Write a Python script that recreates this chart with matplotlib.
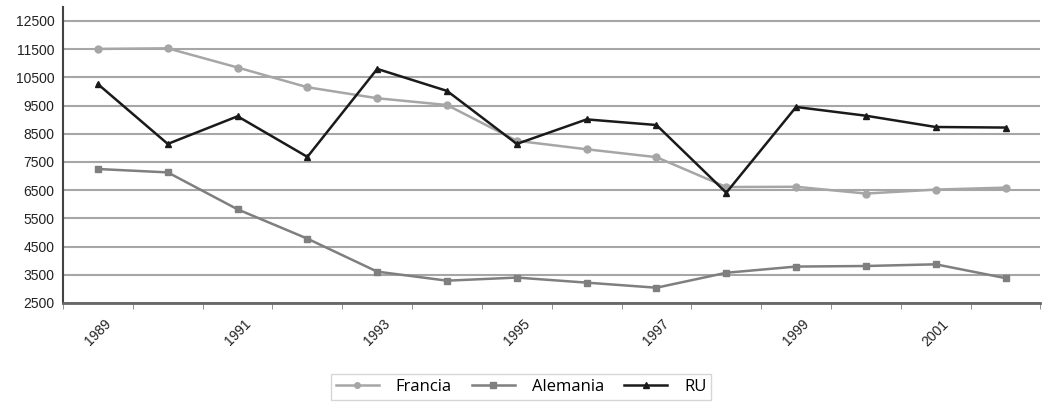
import matplotlib
matplotlib.use("Agg")
import matplotlib.pyplot as plt
import numpy as np

# data
years = list(range(1989, 2003))
francia = [11510, 11530, 10850, 10150, 9760, 9520, 8250, 7950, 7670, 6610, 6620, 6380, 6520, 6590]
alemania = [7250, 7130, 5820, 4780, 3610, 3290, 3400, 3220, 3040, 3570, 3790, 3810, 3870, 3380]
ru = [10260, 8140, 9120, 7680, 10800, 10020, 8140, 9010, 8810, 6410, 9450, 9140, 8740, 8720]

fig = plt.figure(figsize=(10.42, 4.05), dpi=100)
ax = fig.add_axes([0.0605, 0.252, 0.938, 0.731])

idx = np.arange(len(years))
ax.plot(idx, francia, color="#a6a6a6", marker="o", markersize=5, linewidth=1.8, label="Francia", zorder=3)
ax.plot(idx, alemania, color="#7f7f7f", marker="s", markersize=5, linewidth=1.8, label="Alemania", zorder=3)
ax.plot(idx, ru, color="#1a1a1a", marker="^", markersize=5, linewidth=1.8, label="RU", zorder=4)

# axes and grid
ax.set_xlim(-0.5, 13.5)
ax.set_ylim(2500, 13000)
ax.set_yticks(range(2500, 13000, 1000))
ax.tick_params(axis="y", labelsize=10, length=0, pad=6, labelcolor="#222222")
for y in range(2500, 13001, 1000):
    ax.axhline(y, color="#a6a6a6", linewidth=1.5, zorder=1)

ax.set_xticks(idx[::2])
ax.set_xticklabels([str(y) for y in years[::2]], rotation=45, fontsize=10, color="#222222")
ax.tick_params(axis="x", which="major", length=0, pad=10)
ax.set_xticks(np.arange(-0.5, 14, 1), minor=True)
ax.tick_params(axis="x", which="minor", length=4, color="#7f7f7f", direction="out")

for s in ["top", "right"]:
    ax.spines[s].set_visible(False)
ax.spines["left"].set_color("#444444")
ax.spines["left"].set_linewidth(1.5)
ax.spines["bottom"].set_color("#666666")
ax.spines["bottom"].set_linewidth(2)

for lab in ax.get_yticklabels() + ax.get_xticklabels():
    lab.set_fontfamily("Liberation Sans")

handles, labels = ax.get_legend_handles_labels()
leg = fig.legend(handles, labels, loc="center", bbox_to_anchor=(0.5, 0.045), ncol=3, frameon=True,
                 fancybox=False, edgecolor="#cccccc", handlelength=2.6, handletextpad=1.0,
                 markerscale=0.8, columnspacing=1.2, borderpad=0.3,
                 prop={"family": "Open Sans", "size": 12})

plt.savefig("out.png", dpi=100)
